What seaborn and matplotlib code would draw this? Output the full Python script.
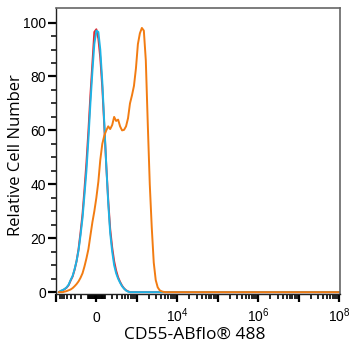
import matplotlib
matplotlib.use("Agg")
import matplotlib.pyplot as plt
import numpy as np
import pandas as pd
import seaborn as sns

# fluorescence intensity (bin centres)
intensity = [-838, -746, -663, -590, -523, -463, -409, -360, -316, -276,
             -239, -206, -174, -146, -119, -93, -69, -45, -23, 0,
             23, 45, 69, 93, 119, 146, 174, 206, 239, 276,
             316, 360, 409, 463, 523, 590, 663, 746, 838, 941,
             1054, 1182, 1326, 1485, 1662, 1864, 2086, 2336, 2616, 2928,
             3278, 3670, 4108, 4598, 5148, 1e4, 1e5, 1e6, 1e7, 1e8]

# relative cell number per sample
unstained = [0, 0.4, 0.7, 1.1, 1.7, 2.6, 4.3, 5.8, 8.3, 11.5,
             16, 22, 29, 38, 48, 60, 73, 85, 96.5, 97.5,
             94, 87, 76, 62, 47, 34, 23.5, 16.5, 11.5, 8,
             5.5, 3.8, 2.4, 1.4, 0.7, 0.3, 0, 0, 0, 0,
             0, 0, 0, 0, 0, 0, 0, 0, 0, 0,
             0, 0, 0, 0, 0, 0, 0, 0, 0, 0]
isotype = [0, 0.5, 0.8, 1.2, 1.8, 2.8, 4.5, 6, 8.5, 11.5,
           15.5, 21, 27.5, 36, 45, 57, 70, 82, 92, 97,
           96.5, 90, 78, 63, 47, 33, 22, 15, 10, 7,
           5, 3.5, 2.2, 1.3, 0.6, 0.2, 0, 0, 0, 0,
           0, 0, 0, 0, 0, 0, 0, 0, 0, 0,
           0, 0, 0, 0, 0, 0, 0, 0, 0, 0]
cd55 = [0, 0, 0, 0.2, 0.4, 0.7, 1.0, 1.5, 2.2, 3,
        4, 5.3, 7, 9.5, 12.5, 16, 21, 26, 30, 35,
        41, 49, 55, 58, 60, 61.5, 60.5, 62, 65, 63.5,
        64, 61.5, 60, 60.2, 61.5, 64.5, 70, 73, 76.5, 83,
        92, 96, 98, 97, 86, 62, 40, 24, 11, 4.5,
        1.8, 0.7, 0.3, 0.1, 0, 0, 0, 0, 0, 0]

samples = ['Unstained', 'Isotype', 'CD55']
colors = {'Unstained': '#e8262c', 'Isotype': '#1db4e6', 'CD55': '#f27c12'}

df = pd.DataFrame({
    'intensity': intensity * 3,
    'count': unstained + isotype + cd55,
    'sample': [s for s in samples for _ in intensity],
})

sns.set_style("ticks")
plt.rcParams['font.family'] = ['Liberation Sans', 'DejaVu Sans']
plt.rcParams['mathtext.default'] = 'regular'
plt.rcParams['text.color'] = 'black'
plt.rcParams['xtick.color'] = 'black'
plt.rcParams['ytick.color'] = 'black'
plt.rcParams['axes.labelcolor'] = 'black'

fig = plt.figure(figsize=(3.51, 3.5), dpi=100)
ax = fig.add_axes([0.1587, 0.1614, 0.81, 0.815])

sns.lineplot(data=df, x='intensity', y='count', hue='sample', hue_order=samples,
             palette=colors, sort=False, estimator=None, lw=1.4, legend=False, ax=ax)

# biexponential-like display (arcsinh)
ax.set_xscale('function', functions=(lambda x: np.arcsinh(np.asarray(x) / 200.0),
                                     lambda y: 200.0 * np.sinh(np.asarray(y))))
ax.set_xlim(-855, 1.05e8)
ax.set_ylim(-0.5, 105.3)

major = [-1e3, 0, 1e3, 1e4, 1e5, 1e6, 1e7, 1e8]
major_labels = ['', '0', '', '$10^{4}$', '', '$10^{6}$', '', '$10^{8}$']
ax.set_xticks(major)
ax.set_xticklabels(major_labels)
minor = [-v * 100 for v in range(2, 9)] + [v * s for s in (10, 100) for v in range(1, 10)] \
    + [-v * 10 for v in range(1, 10)] + [-100] \
    + [v * 10 ** e for e in range(3, 8) for v in range(2, 10)]
ax.set_xticks(minor, minor=True)
for lbl in ax.get_xticklabels():
    lbl.set_verticalalignment('baseline')
ax.tick_params(axis='x', which='major', length=6, width=1.6, pad=14.5, labelsize=10)
ax.tick_params(axis='x', which='minor', length=3.5, width=1.2)

ax.set_yticks([0, 20, 40, 60, 80, 100])
ax.set_yticks(range(0, 105, 5), minor=True)
ax.tick_params(axis='y', which='major', length=6, width=1.6, pad=1, labelsize=10)
ax.tick_params(axis='y', which='minor', length=3.5, width=1.1)

for side in ['left', 'bottom']:
    ax.spines[side].set_color('#222222')
    ax.spines[side].set_linewidth(1.0)
for side in ['top', 'right']:
    ax.spines[side].set_color('#666666')
    ax.spines[side].set_linewidth(1.2)

ax.set_xlabel('CD55-ABflo® 488', fontsize=12.5, family=['Open Sans', 'DejaVu Sans'])
ax.set_ylabel('Relative Cell Number', fontsize=12, family=['Open Sans', 'DejaVu Sans'])
ax.xaxis.set_label_coords(0.49, -0.118)
ax.yaxis.set_label_coords(-0.112, 0.484)

fig.savefig('out.png', dpi=100)
